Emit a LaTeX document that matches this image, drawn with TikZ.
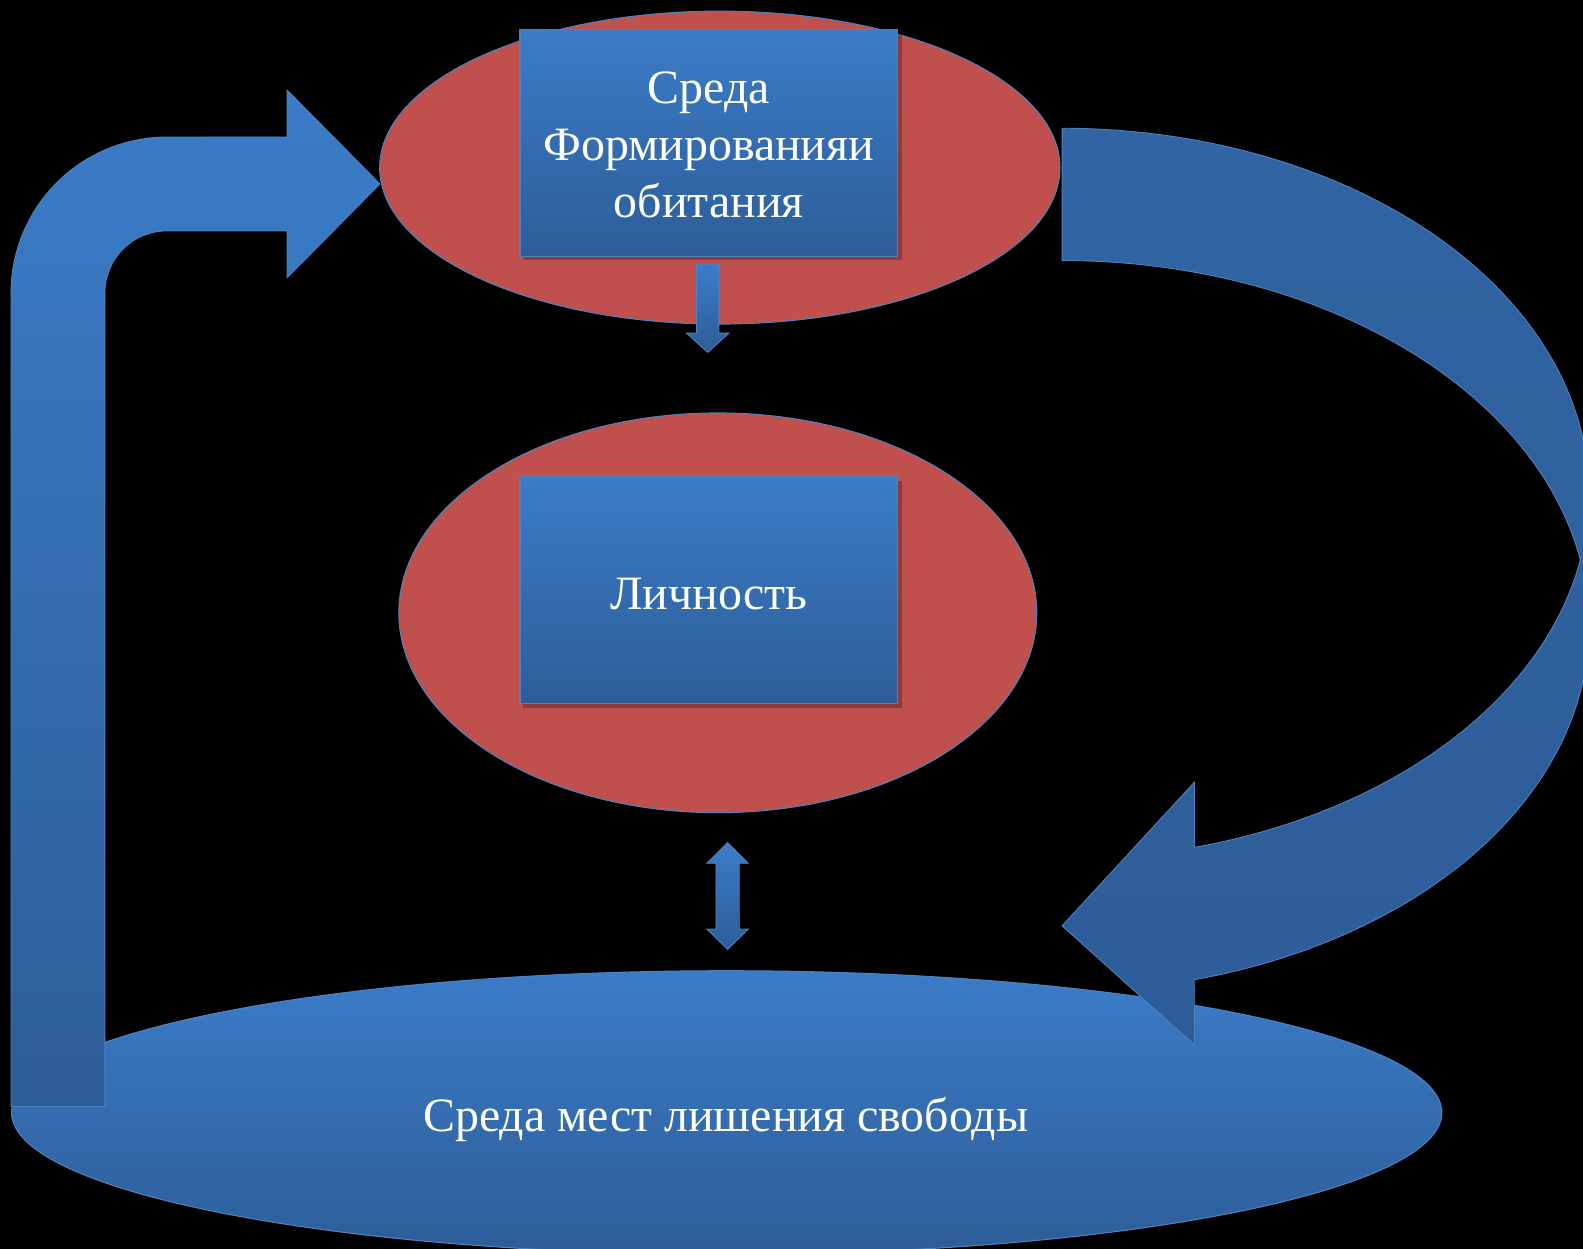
\documentclass[tikz,border=0pt]{standalone}
\usepackage{fontspec}
\setmainfont{Liberation Serif}
\usetikzlibrary{shapes.geometric,shadows}
\definecolor{redfill}{HTML}{C0504D}
\definecolor{edgeblue}{HTML}{4F81BD}
\definecolor{btop}{HTML}{3B7CC8}
\definecolor{bbot}{HTML}{2D5D98}
\definecolor{rtop}{HTML}{3064A2}
\definecolor{rbot}{HTML}{2D5D99}
\begin{document}
\begin{tikzpicture}[x=0.02cm,y=-0.02cm,
  redell/.style={ellipse, draw=edgeblue, line width=0.6pt, fill=redfill, inner sep=0pt},
  bluebox/.style={rectangle, draw=edgeblue, line width=0.6pt, top color=btop, bottom color=bbot,
    minimum width=7.48cm, minimum height=4.5cm, inner sep=0pt},
  boxtext/.style={text=white, align=center, inner sep=0pt, font=\fontsize{27}{32.3}\selectfont},
  boxshadow/.style={fill=black, opacity=0.25},
  blueell/.style={ellipse, draw=edgeblue, line width=0.6pt, top color=btop, bottom color=bbot,
    inner sep=0pt},
  arrowshape/.style={draw=edgeblue, line width=0.5pt, top color=btop, bottom color=bbot},
  darkarrow/.style={draw=edgeblue, line width=0.5pt, top color=rtop, bottom color=rbot}
]
% background and frame
\fill[black] (0,0) rectangle (1568,1237);
\useasboundingbox (0,0) rectangle (1568,1237);
\clip (0,0) rectangle (1568,1237);

% bottom ellipse
\node[blueell, minimum width=28.34cm, minimum height=5.62cm] (bottom) at (719.8,1102) {};
\node[boxtext] (bottomtext) at (719,1109) {Среда мест лишения свободы};

% left bent arrow
\fill[arrowshape] (10.9,1096) -- (10.9,290.2)
  -- plot[domain=180:90, samples=40] ({165.4+154.5*cos(\x)},{290.2-154.5*sin(\x)})
  -- (284.3,135.7) -- (284.3,89.2) -- (376.4,182.2) -- (284.3,275.2) -- (284.3,228.7)
  -- plot[domain=90:180, samples=30] ({165.4+61.5*cos(\x)},{290.2-61.5*sin(\x)})
  -- (103.9,1096) -- cycle;

% right curved arrow
\fill[darkarrow] (1052,127)
  -- plot[domain=90:0, samples=60] ({1052+522*cos(\x)},{489-362*sin(\x)})
  -- (1574,620)
  -- plot[domain=0:-75.47, samples=60] ({1052+522*cos(\x)},{620-362*sin(\x)})
  -- (1183,1034.9) -- (1052,917) -- (1183,774.9) -- (1183,839.4)
  -- plot[domain=-75.47:-10.42, samples=50] ({1052+522*cos(\x)},{489-362*sin(\x)})
  -- plot[domain=10.42:90, samples=60] ({1052+522*cos(\x)},{620-362*sin(\x)})
  -- cycle;

% top ellipse with box
\node[redell, minimum width=13.48cm, minimum height=6.2cm] (topell) at (713,166) {};
\fill[boxshadow] (518,33) rectangle (893,258);
\node[bluebox] (topbox) at (702,141.5) {};
\node[boxtext] (toptext) at (702,143.5) {Среда\\Формированияи\\обитания};

% small down arrow
\fill[arrowshape] (690,262) -- (712,262) -- (712,330) -- (722,330) -- (701,349)
  -- (680,330) -- (690,330) -- cycle;

% middle ellipse with box
\node[redell, minimum width=12.64cm, minimum height=7.92cm] (midell) at (711,607) {};
\fill[boxshadow] (518,476) rectangle (893,701);
\node[bluebox] (midbox) at (702,584.5) {};
\node[boxtext] (midtext) at (702,588) {Личность};

% double arrow
\fill[arrowshape] (720.7,834.7) -- (741.3,855.1) -- (732.2,855.1) -- (732.2,920.2)
  -- (741.3,920.2) -- (720.7,940.3) -- (700.1,920.2) -- (709.2,920.2) -- (709.2,855.1)
  -- (700.1,855.1) -- cycle;
\end{tikzpicture}
\end{document}
